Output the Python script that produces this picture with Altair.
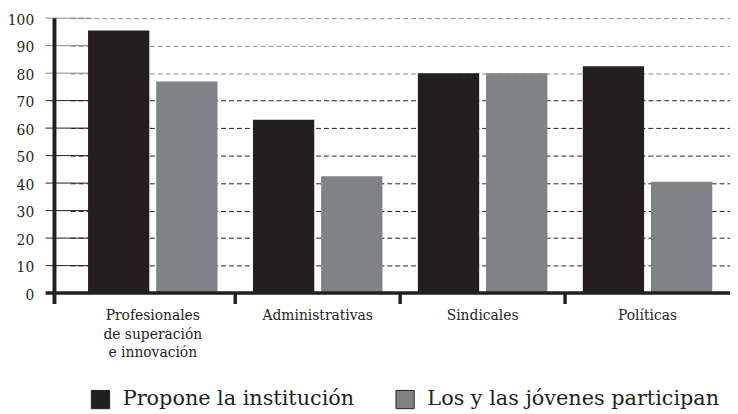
import altair as alt
import pandas as pd

categories = ["Profesionales\nde superación\ne innovación", "Administrativas", "Sindicales", "Políticas"]
series = ["Propone la institución", "Los y las jóvenes participan"]
propone = [95.5, 63, 80, 82.5]
participan = [77, 42.5, 80, 40.5]
y_ticks = [0, 10, 20, 30, 40, 50, 60, 70, 80, 90, 100]
colors = ["#231f20", "#808285"]

rows = []
for c, a, b in zip(categories, propone, participan):
    rows.append({"cat": c, "serie": series[0], "valor": a})
    rows.append({"cat": c, "serie": series[1], "valor": b})
df = pd.DataFrame(rows)
ticks_df = pd.DataFrame({"valor": y_ticks[1:]})
zero_df = pd.DataFrame({"valor": [0]})
xt_df = pd.DataFrame({"cat": categories[1:]})

W, H = 683, 278
FONT = "DejaVu Serif"
INK = "#231f20"
LIGHT = "#8a8a8c"

xscale = alt.Scale(domain=categories, range=[16, W], paddingInner=0, paddingOuter=0)
yscale = alt.Scale(domain=[0, 100], nice=False)

grid_color = {"condition": {"test": "datum.value >= 80", "value": LIGHT}, "value": INK}

xaxis = alt.Axis(
    title=None, ticks=False, domain=False,
    labelExpr="split(datum.label, '\\n')",
    labelFont=FONT, labelFontSize=14, labelColor=INK,
    labelPadding=16, labelAngle=0, labelLineHeight=18.5,
    labelBaseline="top", labelLimit=300,
)
yaxis = alt.Axis(
    title=None, values=y_ticks, ticks=False, domain=False,
    grid=True, gridDash=[5, 3], gridColor=grid_color, gridWidth=1,
    labelFont=FONT, labelFontSize=14, labelColor=INK,
    labelPadding=21, labelOffset=2,
)

seg = alt.Chart(ticks_df).mark_rule(strokeWidth=1).encode(
    y=alt.Y("valor:Q", scale=yscale, axis=yaxis),
    x=alt.value(-9),
    x2=alt.value(37),
    stroke=alt.condition("datum.valor >= 80", alt.value(LIGHT), alt.value(INK)),
)

bars = alt.Chart(df).mark_bar().encode(
    x=alt.X("cat:N", scale=xscale, sort=categories, axis=xaxis),
    xOffset=alt.XOffset(
        "serie:N", sort=series,
        scale=alt.Scale(domain=series, paddingInner=0.101, paddingOuter=0.26),
    ),
    y=alt.Y("valor:Q", scale=yscale, axis=yaxis),
    color=alt.Color(
        "serie:N",
        scale=alt.Scale(domain=series, range=colors),
        sort=series,
        legend=alt.Legend(
            title=None, orient="none", legendX=36, legendY=375,
            direction="horizontal", columns=2,
            symbolType="square", symbolSize=340,
            symbolStrokeColor=INK, symbolStrokeWidth=1,
            labelFont=FONT, labelFontSize=21, labelColor=INK,
            columnPadding=39, labelOffset=12, labelLimit=400,
        ),
    ),
)

xline = alt.Chart(zero_df).mark_rule(strokeWidth=3.5, color=INK).encode(
    y=alt.Y("valor:Q", scale=yscale, axis=yaxis),
    x=alt.value(-9),
    x2=alt.value(W),
)

yline = alt.Chart(zero_df).mark_rule(strokeWidth=4, color=INK).encode(
    x=alt.value(0),
    y=alt.value(0),
    y2=alt.value(H + 11),
)

xticks = alt.Chart(xt_df).mark_rule(strokeWidth=3.5, color=INK).encode(
    x=alt.X("cat:N", scale=xscale, sort=categories, bandPosition=0, axis=xaxis),
    y=alt.value(H),
    y2=alt.value(H + 11),
)

chart = alt.layer(seg, bars, xline, yline, xticks).properties(
    width=W,
    height=H,
    padding={"left": 47, "top": 8, "right": 0, "bottom": 120},
    autosize=alt.AutoSizeParams(type="none"),
    background="white",
).configure_view(stroke=None).configure_legend(
    labelFont=FONT, labelFontSize=21, labelColor=INK
)

chart.save("out.html", embed_options={"renderer": "svg", "actions": False})
